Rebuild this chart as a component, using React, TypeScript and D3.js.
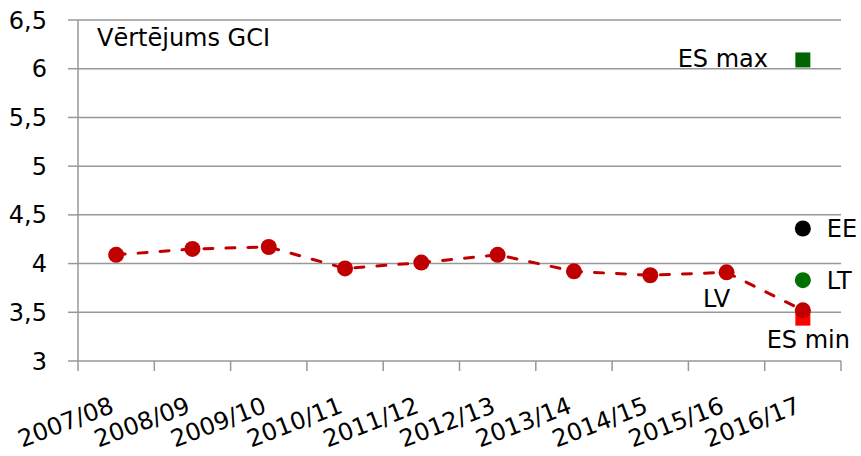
import React from "react";
import * as d3 from "d3";

const categories = ["2007/08","2008/09","2009/10","2010/11","2011/12","2012/13","2013/14","2014/15","2015/16","2016/17"];
const lvValues = [4.09, 4.15, 4.17, 3.95, 4.01, 4.09, 3.92, 3.88, 3.91, 3.52];
const eeValue = 4.36;
const ltValue = 3.83;
const esMax = 6.09;
const esMin = 3.44;
const yTicks = [3, 3.5, 4, 4.5, 5, 5.5, 6, 6.5];
const title = "Vērtējums GCI";

const W = 861, H = 456;
const left = 78, right = 841, top = 20, bottom = 361;
const FONT = "'DejaVu Sans', sans-serif";
const FS = 24;

export default function App() {
  const x = d3.scaleBand<string>().domain(categories).range([left, right]);
  const y = d3.scaleLinear().domain([3, 6.5]).range([bottom, top]);
  const cx = (c: string) => (x(c) as number) + x.bandwidth() / 2;
  const line = d3.line<number>().x((_, i) => cx(categories[i])).y(d => y(d));
  const last = categories[categories.length - 1];
  const fmt = (v: number) => String(v).replace(".", ",");
  const grid = "#989898";
  return (
    <svg width={W} height={H} style={{ position: "absolute", left: 0, top: 0, background: "#fff" }} fontFamily={FONT}>
      {yTicks.map(t => (
        <g key={t}>
          {t > 3 && <line x1={left} x2={right} y1={y(t)} y2={y(t)} stroke={grid} strokeWidth={1.5} />}
          <line x1={left - 10} x2={left} y1={y(t)} y2={y(t)} stroke={grid} strokeWidth={1.5} />
          <text x={47} y={y(t)} dy="0.36em" textAnchor="end" fontSize={FS} fill="#000">{fmt(t)}</text>
        </g>
      ))}
      <line x1={left} x2={left} y1={top} y2={bottom} stroke={grid} strokeWidth={1.5} />
      <line x1={left} x2={right} y1={bottom} y2={bottom} stroke={grid} strokeWidth={1.5} />
      {categories.map(c => (
        <line key={"t" + c} x1={(x(c) as number)} x2={(x(c) as number)} y1={bottom} y2={bottom + 10} stroke={grid} strokeWidth={1.5} />
      ))}
      <line x1={right} x2={right} y1={bottom} y2={bottom + 10} stroke={grid} strokeWidth={1.5} />
      {categories.map(c => (
        <text key={"l" + c} transform={`translate(${cx(c) - 1},${bottom + 51}) rotate(-21)`} textAnchor="end" fontSize={FS} fill="#000">{c}</text>
      ))}
      <text x={97} y={46} fontSize={FS} fill="#000">{title}</text>
      <path d={line(lvValues) || ""} fill="none" stroke="#C00000" strokeWidth={3} strokeDasharray="9,13" strokeLinecap="round" />
      <rect x={cx(last) - 7.5} y={y(esMin) - 7.5} width={15} height={15} fill="#FF0000" />
      {lvValues.map((v, i) => (
        <circle key={"p" + i} cx={cx(categories[i])} cy={y(v)} r={8} fill="#C00000" />
      ))}
      <circle cx={cx(last)} cy={y(eeValue)} r={8} fill="#000" />
      <circle cx={cx(last)} cy={y(ltValue)} r={8} fill="#007000" />
      <rect x={cx(last) - 7.5} y={y(esMax) - 7.5} width={15} height={15} fill="#006400" />
      <text x={768} y={67} textAnchor="end" fontSize={FS}>ES max</text>
      <text x={cx(last) + 24} y={y(eeValue)} dy="0.36em" fontSize={FS}>EE</text>
      <text x={cx(last) + 24} y={y(ltValue)} dy="0.36em" fontSize={FS}>LT</text>
      <text x={cx(categories[8]) - 10} y={307} textAnchor="middle" fontSize={FS}>LV</text>
      <text x={cx(last) + 5.5} y={348} textAnchor="middle" fontSize={FS}>ES min</text>
    </svg>
  );
}
